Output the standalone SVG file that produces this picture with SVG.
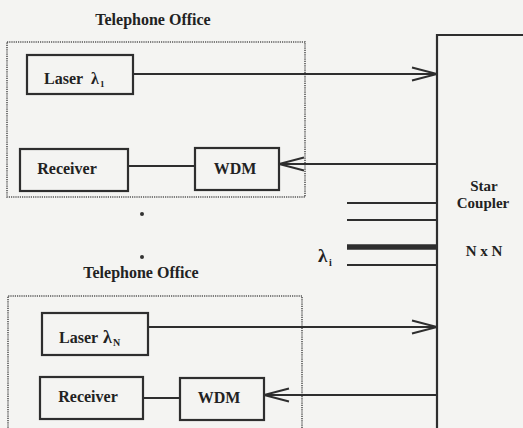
<svg xmlns="http://www.w3.org/2000/svg" width="523" height="428" viewBox="0 0 523 428">
<style>
.bg{fill:#f4f4f2}
.box{fill:none;stroke:#2e2e2e;stroke-width:2.2}
.office{fill:none;stroke:#555;stroke-width:1.6;stroke-dasharray:1.2 1}
.ln{fill:none;stroke:#2e2e2e;stroke-width:2}
.thick{stroke-width:5.5}
.t{font-family:"Liberation Serif","Times New Roman",serif;fill:#222;font-weight:bold}
.lbl{font-size:16px}
.title{font-size:16px}
</style>
<defs>
<marker id="arr" viewBox="0 -8 27 16" markerWidth="27" markerHeight="16" refX="26" refY="0" orient="auto" markerUnits="userSpaceOnUse">
<path d="M1,-6.5 L26,0 L1,6.5" fill="none" stroke="#2e2e2e" stroke-width="2"/>
</marker>
</defs>
<rect class="bg" x="0" y="0" width="523" height="428"/>

<g id="office1">
<text class="t title" x="153" y="25" text-anchor="middle">Telephone Office</text>
<rect class="office" x="7" y="42" width="298" height="155"/>
</g>
<g id="laser1">
<rect class="box" x="27" y="55" width="106" height="39"/>
<text class="t lbl" x="44" y="84">Laser</text>
<text class="t lbl" x="91" y="84">λ</text>
<text class="t" x="100" y="87" font-size="9">1</text>
</g>
<g id="receiver1">
<rect class="box" x="20" y="149" width="108" height="42"/>
<text class="t lbl" x="67" y="174" text-anchor="middle">Receiver</text>
</g>
<g id="wdm1">
<rect class="box" x="195" y="148" width="84" height="42"/>
<text class="t lbl" x="235" y="174" text-anchor="middle">WDM</text>
</g>

<g id="dots">
<circle cx="142" cy="214" r="2" fill="#333"/>
<circle cx="142" cy="257" r="2" fill="#333"/>
</g>

<g id="office2">
<text class="t title" x="141" y="278" text-anchor="middle">Telephone Office</text>
<path class="office" d="M8,430 V296 H302 V430"/>
</g>
<g id="laserN">
<rect class="box" x="42" y="313" width="106" height="42"/>
<text class="t lbl" x="59" y="343">Laser</text>
<text class="t" x="103" y="343" font-size="18">λ</text>
<text class="t" x="113" y="346" font-size="10">N</text>
</g>
<g id="receiver2">
<rect class="box" x="40" y="377" width="103" height="42"/>
<text class="t lbl" x="88" y="402" text-anchor="middle">Receiver</text>
</g>
<g id="wdm2">
<rect class="box" x="180" y="378" width="84" height="42"/>
<text class="t lbl" x="219" y="403" text-anchor="middle">WDM</text>
</g>

<g id="star">
<path class="box" d="M525,35 H437 V430"/>
<text class="t" x="484" y="191" font-size="15" text-anchor="middle">Star</text>
<text class="t" x="483" y="208" font-size="15" text-anchor="middle">Coupler</text>
<text class="t" x="484" y="256" font-size="15" text-anchor="middle">N x N</text>
</g>

<g id="connectors">
<line class="ln" x1="133" y1="74" x2="437" y2="74" marker-end="url(#arr)"/>
<line class="ln" x1="437" y1="164" x2="279" y2="164" marker-end="url(#arr)"/>
<line class="ln" x1="128" y1="166" x2="195" y2="166"/>
<line class="ln" x1="148" y1="327" x2="437" y2="327" marker-end="url(#arr)"/>
<line class="ln" x1="437" y1="395" x2="264" y2="395" marker-end="url(#arr)"/>
<line class="ln" x1="143" y1="398" x2="180" y2="398"/>
<line class="ln" x1="347" y1="203" x2="437" y2="203"/>
<line class="ln" x1="347" y1="220" x2="437" y2="220"/>
<line class="ln thick" x1="347" y1="247" x2="437" y2="247"/>
<line class="ln" x1="347" y1="265" x2="437" y2="265"/>
</g>
<g id="lambda-i">
<text class="t" x="318" y="262" font-size="19">λ</text>
<text class="t" x="329" y="266" font-size="10">i</text>
</g>
</svg>
